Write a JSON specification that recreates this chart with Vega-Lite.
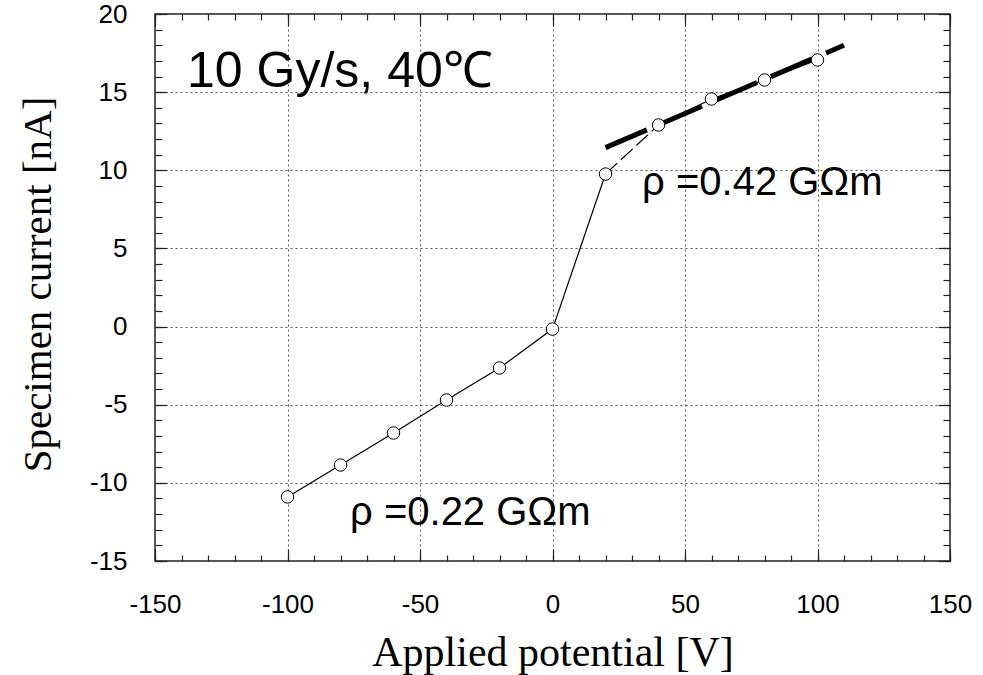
{
  "$schema": "https://vega.github.io/schema/vega-lite/v6.json",
  "width": 795,
  "height": 547,
  "autosize": "none",
  "padding": {"left": 155, "top": 14, "right": 33, "bottom": 114},
  "background": "white",
  "config": {"view": {"stroke": "#222", "strokeWidth": 1.5}, "font": "Liberation Sans"},
  "datasets": {
    "meas": [
      {"V": -100, "I": -10.9},
      {"V": -80, "I": -8.86},
      {"V": -60, "I": -6.81},
      {"V": -40, "I": -4.7},
      {"V": -20, "I": -2.65},
      {"V": 0, "I": -0.16},
      {"V": 20, "I": 9.76},
      {"V": 40, "I": 12.9},
      {"V": 60, "I": 14.56},
      {"V": 80, "I": 15.78},
      {"V": 100, "I": 17.06}
    ],
    "fit": [
      {"V": 20, "I": 11.45},
      {"V": 110, "I": 18.0}
    ]
  },
  "layer": [
    {
      "data": {"name": "meas"},
      "transform": [{"filter": "datum.V <= 20"}],
      "mark": {"type": "line", "color": "black", "strokeWidth": 1.2},
      "encoding": {
        "x": {
          "field": "V", "type": "quantitative",
          "scale": {"domain": [-150, 150], "nice": false, "zero": false},
          "axis": {
            "orient": "bottom", "values": [-150, -100, -50, 0, 50, 100, 150],
            "ticks": false, "domain": false, "grid": true, "gridColor": "#555", "gridDash": [2, 3], "gridWidth": 1,
            "labelExpr": "'' + datum.value", "labelFont": "Liberation Sans", "labelFontSize": 26, "labelColor": "black",
            "labelBaseline": "alphabetic", "labelPadding": 51, "labelFlush": false, "labelOverlap": false, "labelBound": false,
            "title": "Applied potential [V]", "titleFont": "Liberation Serif", "titleFontSize": 42, "titleFontWeight": "normal",
            "titleColor": "black", "titleBaseline": "alphabetic", "titleY": 104
          }
        },
        "y": {
          "field": "I", "type": "quantitative",
          "scale": {"domain": [-15, 20], "nice": false, "zero": false},
          "axis": {
            "orient": "left", "values": [-15, -10, -5, 0, 5, 10, 15, 20],
            "ticks": false, "domain": false, "grid": true, "gridColor": "#555", "gridDash": [2, 3], "gridWidth": 1,
            "labelExpr": "'' + datum.value", "labelFont": "Liberation Sans", "labelFontSize": 26, "labelColor": "black",
            "labelPadding": 28, "labelFlush": false, "labelOverlap": false, "labelBound": false,
            "title": "Specimen current [nA]", "titleFont": "Liberation Serif", "titleFontSize": 41, "titleFontWeight": "normal",
            "titleColor": "black", "titleBaseline": "alphabetic", "titleX": -105, "titleY": 270
          }
        }
      }
    },
    {
      "data": {"name": "meas"},
      "transform": [{"filter": "datum.V >= 40"}],
      "mark": {"type": "line", "color": "black", "strokeWidth": 1.2},
      "encoding": {
        "x": {
          "field": "V", "type": "quantitative",
          "axis": {
            "orient": "bottom", "values": [-150, -100, -50, 0, 50, 100, 150], "offset": -12, "tickSize": 12,
            "tickColor": "#222", "tickWidth": 1.2, "labels": false, "domain": false, "grid": false, "title": null
          }
        },
        "y": {
          "field": "I", "type": "quantitative",
          "axis": {
            "orient": "left", "values": [-15, -10, -5, 0, 5, 10, 15, 20], "offset": -12, "tickSize": 12,
            "tickColor": "#222", "tickWidth": 1.2, "labels": false, "domain": false, "grid": false, "title": null
          }
        }
      }
    },
    {
      "data": {"name": "meas"},
      "transform": [{"filter": "datum.V >= 20 && datum.V <= 40"}],
      "mark": {"type": "line", "color": "black", "strokeWidth": 1.2, "strokeDash": [16, 5]},
      "encoding": {
        "x": {
          "field": "V", "type": "quantitative",
          "axis": {
            "orient": "bottom",
            "values": [-150, -140, -130, -120, -110, -100, -90, -80, -70, -60, -50, -40, -30, -20, -10, 0, 10, 20, 30, 40, 50, 60, 70, 80, 90, 100, 110, 120, 130, 140, 150],
            "offset": -6, "tickSize": 6, "tickColor": "#222", "tickWidth": 1.2, "labels": false, "domain": false, "grid": false, "title": null
          }
        },
        "y": {
          "field": "I", "type": "quantitative",
          "axis": {
            "orient": "left",
            "values": [-15, -14, -13, -12, -11, -10, -9, -8, -7, -6, -5, -4, -3, -2, -1, 0, 1, 2, 3, 4, 5, 6, 7, 8, 9, 10, 11, 12, 13, 14, 15, 16, 17, 18, 19, 20],
            "offset": -7, "tickSize": 7, "tickColor": "#222", "tickWidth": 1.2, "labels": false, "domain": false, "grid": false, "title": null
          }
        }
      }
    },
    {
      "data": {"name": "fit"},
      "mark": {"type": "line", "color": "black", "strokeWidth": 5, "strokeDash": [45, 15], "strokeCap": "butt"},
      "encoding": {
        "x": {
          "field": "V", "type": "quantitative",
          "axis": {
            "orient": "top", "values": [-150, -100, -50, 0, 50, 100, 150], "offset": -12, "tickSize": 12,
            "tickColor": "#222", "tickWidth": 1.2, "labels": false, "domain": false, "grid": false, "title": null
          }
        },
        "y": {
          "field": "I", "type": "quantitative",
          "axis": {
            "orient": "right", "values": [-15, -10, -5, 0, 5, 10, 15, 20], "offset": -12, "tickSize": 12,
            "tickColor": "#222", "tickWidth": 1.2, "labels": false, "domain": false, "grid": false, "title": null
          }
        }
      }
    },
    {
      "data": {"name": "meas"},
      "mark": {"type": "point", "shape": "circle", "size": 155, "filled": true, "fill": "white", "stroke": "black", "strokeWidth": 1, "opacity": 1},
      "encoding": {
        "x": {
          "field": "V", "type": "quantitative",
          "axis": {
            "orient": "top",
            "values": [-150, -140, -130, -120, -110, -100, -90, -80, -70, -60, -50, -40, -30, -20, -10, 0, 10, 20, 30, 40, 50, 60, 70, 80, 90, 100, 110, 120, 130, 140, 150],
            "offset": -6, "tickSize": 6, "tickColor": "#222", "tickWidth": 1.2, "labels": false, "domain": false, "grid": false, "title": null
          }
        },
        "y": {
          "field": "I", "type": "quantitative",
          "axis": {
            "orient": "right",
            "values": [-15, -14, -13, -12, -11, -10, -9, -8, -7, -6, -5, -4, -3, -2, -1, 0, 1, 2, 3, 4, 5, 6, 7, 8, 9, 10, 11, 12, 13, 14, 15, 16, 17, 18, 19, 20],
            "offset": -7, "tickSize": 7, "tickColor": "#222", "tickWidth": 1.2, "labels": false, "domain": false, "grid": false, "title": null
          }
        }
      }
    },
    {
      "data": {"values": [{"label": "10 Gy/s, 40℃"}]},
      "mark": {"type": "text", "align": "left", "baseline": "alphabetic", "font": "Liberation Sans", "fontSize": 50, "color": "black"},
      "encoding": {
        "x": {"datum": -137.9, "type": "quantitative", "axis": null},
        "y": {"datum": 15.33, "type": "quantitative", "axis": null},
        "text": {"field": "label"}
      }
    },
    {
      "data": {"values": [{"label": "ρ =0.42 GΩm"}]},
      "mark": {"type": "text", "align": "left", "baseline": "alphabetic", "font": "Liberation Sans", "fontSize": 40, "color": "black"},
      "encoding": {
        "x": {"datum": 33.8, "type": "quantitative", "axis": null},
        "y": {"datum": 8.42, "type": "quantitative", "axis": null},
        "text": {"field": "label"}
      }
    },
    {
      "data": {"values": [{"label": "ρ =0.22 GΩm"}]},
      "mark": {"type": "text", "align": "left", "baseline": "alphabetic", "font": "Liberation Sans", "fontSize": 40, "color": "black"},
      "encoding": {
        "x": {"datum": -76.4, "type": "quantitative", "axis": null},
        "y": {"datum": -12.7, "type": "quantitative", "axis": null},
        "text": {"field": "label"}
      }
    }
  ],
  "resolve": {"axis": {"x": "independent", "y": "independent"}}
}
